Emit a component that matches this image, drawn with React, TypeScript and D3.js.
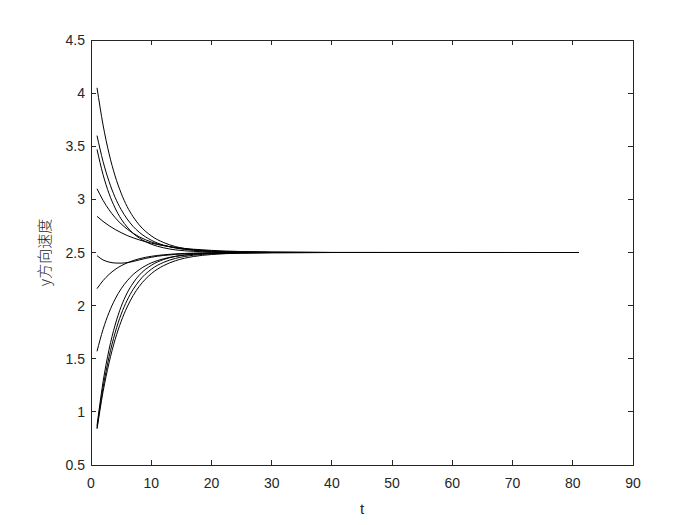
import React, { useEffect } from "react";
import * as d3 from "d3";

const tGrid = [1, 2, 3, 4, 5, 6, 7, 8, 10, 12, 14, 17, 20, 25, 30, 40, 81];

const curve1 = [4.05, 3.701, 3.43, 3.221, 3.059, 2.932, 2.836, 2.76, 2.657, 2.595, 2.556, 2.526, 2.512, 2.503, 2.501, 2.5, 2.5];
const curve2 = [3.6, 3.357, 3.168, 3.019, 2.905, 2.816, 2.745, 2.691, 2.616, 2.57, 2.543, 2.52, 2.51, 2.503, 2.501, 2.5, 2.5];
const curve3 = [3.47, 3.233, 3.054, 2.919, 2.816, 2.74, 2.68, 2.637, 2.578, 2.545, 2.525, 2.511, 2.505, 2.501, 2.5, 2.5, 2.5];
const curve4 = [3.1, 2.991, 2.902, 2.829, 2.769, 2.721, 2.681, 2.648, 2.599, 2.567, 2.544, 2.525, 2.513, 2.505, 2.502, 2.5, 2.5];
const curve5 = [2.84, 2.793, 2.752, 2.717, 2.687, 2.66, 2.638, 2.619, 2.588, 2.565, 2.548, 2.531, 2.52, 2.509, 2.504, 2.501, 2.5];
const curve6 = [2.47, 2.43, 2.41, 2.401, 2.4, 2.405, 2.415, 2.43, 2.455, 2.472, 2.482, 2.491, 2.495, 2.498, 2.499, 2.5, 2.5];
const curve7 = [2.16, 2.235, 2.294, 2.34, 2.375, 2.402, 2.424, 2.441, 2.464, 2.478, 2.487, 2.494, 2.497, 2.499, 2.5, 2.5, 2.5];
const curve8 = [1.57, 1.776, 1.936, 2.061, 2.158, 2.233, 2.293, 2.338, 2.402, 2.44, 2.464, 2.483, 2.492, 2.498, 2.499, 2.5, 2.5];
const curve9 = [0.87, 1.281, 1.587, 1.817, 1.99, 2.119, 2.213, 2.286, 2.379, 2.433, 2.463, 2.484, 2.493, 2.498, 2.5, 2.5, 2.5];
const curve10 = [0.85, 1.228, 1.518, 1.744, 1.918, 2.05, 2.153, 2.233, 2.342, 2.406, 2.444, 2.474, 2.488, 2.497, 2.499, 2.5, 2.5];
const curve11 = [0.84, 1.189, 1.462, 1.68, 1.851, 1.987, 2.095, 2.18, 2.3, 2.375, 2.422, 2.462, 2.481, 2.494, 2.498, 2.5, 2.5];

const allCurves = [curve1, curve2, curve3, curve4, curve5, curve6, curve7, curve8, curve9, curve10, curve11];

const xTicks = [0, 10, 20, 30, 40, 50, 60, 70, 80, 90];
const yTicks = [0.5, 1, 1.5, 2, 2.5, 3, 3.5, 4, 4.5];

const W = 700;
const H = 525;
const left = 91;
const right = 633;
const top = 40;
const bottom = 465;

export default function App() {
  useEffect(() => {
    document.body.style.margin = "0";
  }, []);

  const x = d3.scaleLinear().domain([0, 90]).range([left, right]);
  const y = d3.scaleLinear().domain([0.5, 4.5]).range([bottom, top]);
  const line = d3
    .line<number>()
    .x((_, i) => x(tGrid[i]))
    .y((d) => y(d))
    .curve(d3.curveMonotoneX);

  const axisColor = "#262626";
  const font = "'Liberation Sans', Arial, sans-serif";

  return (
    <svg width={W} height={H} style={{ display: "block", background: "#fff" }}>
      <rect x={0} y={0} width={W} height={H} fill="#fff" />
      {allCurves.map((c, i) => (
        <path key={i} d={line(c) || ""} fill="none" stroke="#000" strokeWidth={1} />
      ))}
      <rect x={left} y={top} width={right - left} height={bottom - top} fill="none" stroke={axisColor} strokeWidth={1} shapeRendering="crispEdges" />
      {xTicks.map((t) => (
        <g key={"x" + t}>
          <line x1={x(t)} x2={x(t)} y1={bottom} y2={bottom - 5} stroke={axisColor} shapeRendering="crispEdges" />
          <line x1={x(t)} x2={x(t)} y1={top} y2={top + 5} stroke={axisColor} shapeRendering="crispEdges" />
          <text x={x(t)} y={bottom + 23} textAnchor="middle" fontFamily={font} fontSize={14} fill={axisColor}>
            {t}
          </text>
        </g>
      ))}
      {yTicks.map((t) => (
        <g key={"y" + t}>
          <line x1={left} x2={left + 5} y1={y(t)} y2={y(t)} stroke={axisColor} shapeRendering="crispEdges" />
          <line x1={right} x2={right - 5} y1={y(t)} y2={y(t)} stroke={axisColor} shapeRendering="crispEdges" />
          <text x={left - 6} y={y(t) + 5} textAnchor="end" fontFamily={font} fontSize={14} fill={axisColor}>
            {t}
          </text>
        </g>
      ))}
      <text x={(left + right) / 2} y={bottom + 49} textAnchor="middle" fontFamily={font} fontSize={15} fill={axisColor}>
        t
      </text>
      <text
        transform={`translate(${50},${(top + bottom) / 2}) rotate(-90)`}
        textAnchor="middle"
        fontFamily="'Noto Sans CJK SC', sans-serif"
        fontWeight={300}
        fontSize={15}
        fill={axisColor}
      >
        y方向速度
      </text>
    </svg>
  );
}
